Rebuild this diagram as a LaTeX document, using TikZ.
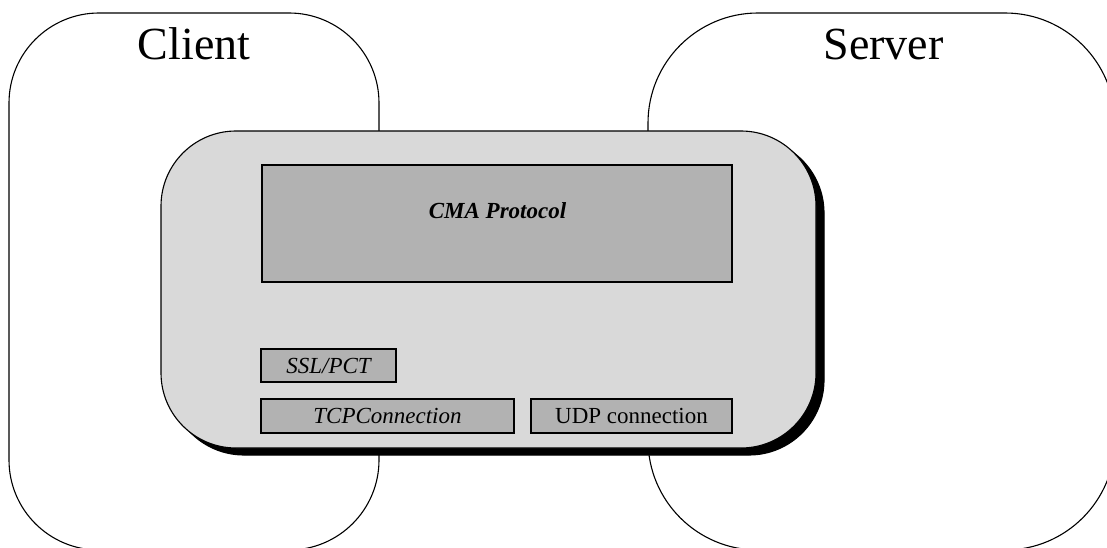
\documentclass[tikz,border=0pt]{standalone}
\usepackage{fontspec}
\setmainfont{Liberation Serif}
\begin{document}
\begin{tikzpicture}[x=1pt,y=-1pt,
  host/.style={draw=black, line width=1.1pt, fill=white, inner sep=0pt},
  layer/.style={draw=black, line width=1.1pt, fill=black!30, inner sep=0pt},
  lbl/.style={font=\fontsize{23}{26}\selectfont, inner sep=0pt}]
\useasboundingbox (0,0) rectangle (1107,548);
\clip (0,0) rectangle (1107,548);
% hosts
\node[host, rounded corners=90pt, minimum width=370pt, minimum height=537pt] (client) at (194,281.5) {};
\node[host, rounded corners=110pt, minimum width=467pt, minimum height=537pt] (server) at (881.5,281.5) {};
\node[anchor=base, font=\fontsize{46}{50}\selectfont, inner sep=0pt] (clientlbl) at (194,60) {Client};
\node[anchor=base, font=\fontsize{46}{50}\selectfont, inner sep=0pt] (serverlbl) at (883.5,60) {Server};
% middleware with shadow
\node[fill=black, draw=black, line width=1.1pt, rounded corners=75pt, minimum width=655pt, minimum height=317pt, inner sep=0pt] (shadow) at (496.5,296.5) {};
\node[draw=black, line width=1.1pt, fill=black!15, rounded corners=75pt, minimum width=655pt, minimum height=317pt, inner sep=0pt] (mw) at (488.5,289.5) {};
% layers
\node[layer, minimum width=470pt, minimum height=117pt] (cma) at (497,223.5) {};
\node[lbl, font=\fontsize{23}{26}\selectfont\bfseries\itshape] (cmalbl) at (497.5,211) {CMA Protocol};
\node[layer, minimum width=135pt, minimum height=33pt, font=\fontsize{23}{26}\selectfont\itshape] (ssl) at (328.5,365.5) {SSL/PCT};
\node[layer, minimum width=253pt, minimum height=34pt, font=\fontsize{23}{26}\selectfont\itshape] (tcp) at (387.5,416) {TCPConnection};
\node[layer, minimum width=201pt, minimum height=34pt, font=\fontsize{23}{26}\selectfont] (udp) at (631.5,416) {UDP connection};
\end{tikzpicture}
\end{document}
